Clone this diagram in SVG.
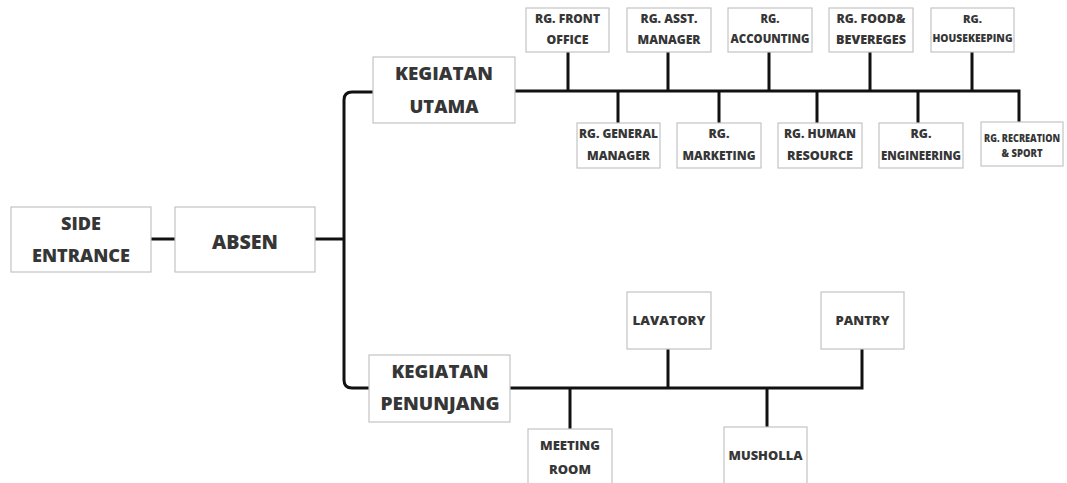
<svg xmlns="http://www.w3.org/2000/svg" width="1067" height="483" viewBox="0 0 1067 483">
<style>
.box{fill:#fff;stroke:#c4c4c4;stroke-width:1.2}
.t{font-family:"Open Sans",Inter,"Liberation Sans",sans-serif;font-weight:800;fill:#363636;text-anchor:middle}
.big{font-size:18px}
.mid{font-size:13px}
.sm{font-size:12px}
.xs{font-size:10px}
.ln{fill:none;stroke:#111;stroke-width:3}
</style>
<rect width="1067" height="483" fill="#fff"/>
<g id="connectors">
<path class="ln" d="M151 239H175"/>
<path class="ln" d="M315 239H344"/>
<path class="ln" d="M373 92H352Q344 92 344 100V380Q344 388 352 388H369"/>
<path class="ln" d="M515 91H1019V122"/>
<path class="ln" d="M568 52V91M668 52V91M769 52V91M870 52V91M972 52V91"/>
<path class="ln" d="M618 91V123M719 91V123M817 91V123M918 91V123"/>
<path class="ln" d="M510 388H862V349"/>
<path class="ln" d="M668 349V388M570 388V429M767 388V427"/>
</g>
<g id="side-entrance"><rect class="box" x="11" y="207" width="140" height="65"/><text class="t big" x="81" y="230" textLength="40" lengthAdjust="spacingAndGlyphs">SIDE</text><text class="t big" x="81" y="262" textLength="98" lengthAdjust="spacingAndGlyphs">ENTRANCE</text></g>
<g id="absen"><rect class="box" x="175" y="207" width="140" height="65"/><text class="t big" x="245" y="249" style="font-size:20px" textLength="66" lengthAdjust="spacingAndGlyphs">ABSEN</text></g>
<g id="kegiatan-utama"><rect class="box" x="373" y="57" width="142" height="66"/><text class="t big" x="444" y="80" textLength="98" lengthAdjust="spacingAndGlyphs">KEGIATAN</text><text class="t big" x="444" y="113" textLength="69" lengthAdjust="spacingAndGlyphs">UTAMA</text></g>
<g id="kegiatan-penunjang"><rect class="box" x="369" y="355" width="141" height="67"/><text class="t big" x="440" y="378" textLength="97" lengthAdjust="spacingAndGlyphs">KEGIATAN</text><text class="t big" x="440" y="410" textLength="119" lengthAdjust="spacingAndGlyphs">PENUNJANG</text></g>
<g id="front-office"><rect class="box" x="526" y="8" width="83" height="44"/><text class="t mid" x="567.5" y="23" textLength="65" lengthAdjust="spacingAndGlyphs">RG. FRONT</text><text class="t mid" x="567.5" y="44" textLength="42" lengthAdjust="spacingAndGlyphs">OFFICE</text></g>
<g id="asst-manager"><rect class="box" x="627" y="8" width="84" height="44"/><text class="t mid" x="669" y="23" textLength="57" lengthAdjust="spacingAndGlyphs">RG. ASST.</text><text class="t mid" x="669" y="44" textLength="63" lengthAdjust="spacingAndGlyphs">MANAGER</text></g>
<g id="accounting"><rect class="box" x="728" y="8" width="84" height="44"/><text class="t sm" x="770" y="23" textLength="19" lengthAdjust="spacingAndGlyphs">RG.</text><text class="t sm" x="770" y="43" textLength="79" lengthAdjust="spacingAndGlyphs">ACCOUNTING</text></g>
<g id="food"><rect class="box" x="829" y="8" width="84" height="44"/><text class="t mid" x="871" y="23" textLength="69" lengthAdjust="spacingAndGlyphs">RG. FOOD&amp;</text><text class="t mid" x="871" y="44" textLength="70" lengthAdjust="spacingAndGlyphs">BEVEREGES</text></g>
<g id="housekeeping"><rect class="box" x="931" y="8" width="83" height="44"/><text class="t xs" x="972.5" y="23" textLength="19" lengthAdjust="spacingAndGlyphs">RG.</text><text class="t xs" x="972.5" y="42" textLength="80" lengthAdjust="spacingAndGlyphs">HOUSEKEEPING</text></g>
<g id="general-manager"><rect class="box" x="577" y="123" width="83" height="45"/><text class="t mid" x="618.5" y="138" textLength="79" lengthAdjust="spacingAndGlyphs">RG. GENERAL</text><text class="t mid" x="618.5" y="160" textLength="63" lengthAdjust="spacingAndGlyphs">MANAGER</text></g>
<g id="marketing"><rect class="box" x="677" y="123" width="84" height="45"/><text class="t mid" x="719" y="138" textLength="21" lengthAdjust="spacingAndGlyphs">RG.</text><text class="t mid" x="719" y="160" textLength="73" lengthAdjust="spacingAndGlyphs">MARKETING</text></g>
<g id="human-resource"><rect class="box" x="778" y="123" width="84" height="45"/><text class="t mid" x="820" y="138" textLength="72" lengthAdjust="spacingAndGlyphs">RG. HUMAN</text><text class="t mid" x="820" y="160" textLength="66" lengthAdjust="spacingAndGlyphs">RESOURCE</text></g>
<g id="engineering"><rect class="box" x="879" y="123" width="84" height="45"/><text class="t mid" x="921" y="138" textLength="21" lengthAdjust="spacingAndGlyphs">RG.</text><text class="t mid" x="921" y="160" textLength="80" lengthAdjust="spacingAndGlyphs">ENGINEERING</text></g>
<g id="recreation"><rect class="box" x="981" y="122" width="82" height="44"/><text class="t xs" x="1022" y="142" textLength="76" lengthAdjust="spacingAndGlyphs">RG. RECREATION</text><text class="t xs" x="1022" y="157" textLength="41" lengthAdjust="spacingAndGlyphs">&amp; SPORT</text></g>
<g id="lavatory"><rect class="box" x="627" y="292" width="84" height="57"/><text class="t mid" x="669" y="325" textLength="73" lengthAdjust="spacingAndGlyphs">LAVATORY</text></g>
<g id="pantry"><rect class="box" x="821" y="292" width="83" height="57"/><text class="t mid" x="862.5" y="325" textLength="54" lengthAdjust="spacingAndGlyphs">PANTRY</text></g>
<g id="meeting-room"><rect class="box" x="528" y="429" width="84" height="60"/><text class="t mid" x="570" y="450" textLength="60" lengthAdjust="spacingAndGlyphs">MEETING</text><text class="t mid" x="570" y="474" textLength="42" lengthAdjust="spacingAndGlyphs">ROOM</text></g>
<g id="musholla"><rect class="box" x="724" y="427" width="83" height="62"/><text class="t mid" x="765.5" y="460" textLength="74" lengthAdjust="spacingAndGlyphs">MUSHOLLA</text></g>
</svg>
